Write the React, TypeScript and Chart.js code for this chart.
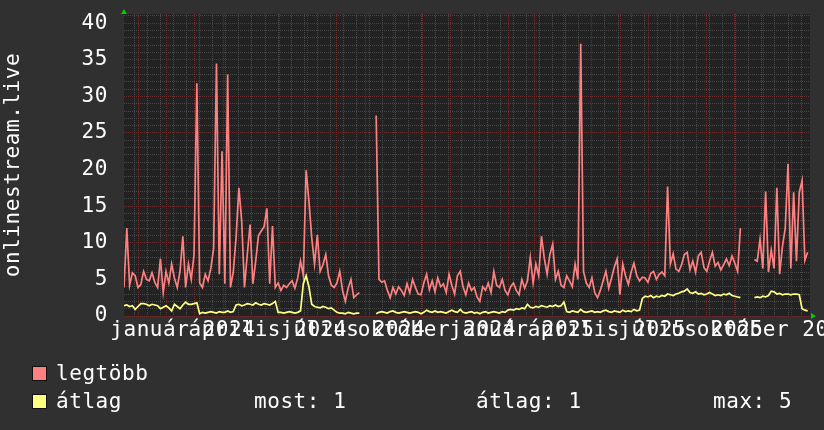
import React, { useEffect, useRef } from 'react';
import { Chart, registerables } from 'chart.js';

Chart.register(...registerables);

// ---- data ----
const STEP_DAYS = 3;
const X_MAX_DAYS = 734.5;
const Y_MAX = 41.25;

const MAX_SERIES: (number | null)[] = [
  3.9, 12.0, 4.2, 5.9, 5.5, 3.9, 4.3, 6.1, 5.0, 4.8,
  5.9, 4.6, 3.9, 7.8, 3.2, 6.1, 4.5, 7.1, 5.2, 3.9,
  6.1, 10.9, 3.9, 7.1, 5.0, 8.4, 31.8, 4.5, 3.9, 5.7,
  4.8, 6.5, 9.3, 34.5, 5.7, 22.5, 4.4, 33.0, 3.9, 6.0,
  10.7, 17.5, 13.0, 3.9, 8.4, 12.5, 4.4, 7.5, 11.0, 11.6,
  12.2, 14.7, 4.4, 12.3, 3.9, 4.5, 3.5, 4.2, 3.9, 4.4,
  4.8, 3.8, 5.2, 7.5, 5.5, 19.9, 15.7, 10.7, 7.1, 11.1,
  6.1, 7.0, 8.4, 5.5, 4.2, 3.9, 4.5, 6.1, 3.5, 2.0,
  3.8, 5.0, 2.5, 2.9, 3.2, null, null, null, null, null,
  27.4, 5.0, 4.6, 4.8, 3.5, 2.5, 3.9, 3.0, 4.0, 3.5,
  2.8, 4.4, 3.2, 5.0, 3.9, 3.0, 2.9, 4.5, 5.7, 3.6,
  4.8, 3.3, 5.2, 4.0, 4.4, 3.2, 5.7, 4.2, 3.0, 5.5,
  6.1, 4.0, 2.9, 4.5, 3.5, 3.9, 2.6, 2.0, 4.0, 3.5,
  4.5, 3.2, 6.1, 4.2, 3.9, 5.0, 3.5, 2.9, 4.0, 4.5,
  3.5, 2.9, 5.0, 3.8, 4.8, 8.0, 4.5, 7.1, 5.5, 10.9,
  7.9, 5.7, 8.4, 9.8, 5.0, 6.1, 4.2, 3.9, 5.5, 4.8,
  4.0, 7.1, 5.0, 37.2, 6.1, 4.5, 3.9, 5.2, 3.2, 2.5,
  3.5, 4.8, 6.1, 3.8, 5.2, 6.7, 7.8, 2.9, 7.1, 5.5,
  4.3, 6.0, 7.2, 5.5, 4.8, 5.3, 5.2, 4.6, 5.8, 6.1,
  5.0, 5.7, 6.0, 5.5, 17.7, 7.1, 8.5, 6.4, 6.1, 7.0,
  8.4, 8.7, 6.3, 7.5, 6.0, 8.2, 8.7, 6.6, 6.1, 7.5,
  8.7, 6.8, 7.3, 6.3, 7.0, 7.8, 6.9, 8.2, 7.2, 6.1,
  12.0, null, null, null, null, 7.7, 7.5, 10.5, 6.5, 17.0,
  6.0, 9.0, 6.5, 17.5, 5.7, 9.5, 12.0, 20.8, 6.5, 16.9,
  7.5, 16.9, 18.5, 7.6, 8.7,
];

const AVG_SERIES: (number | null)[] = [
  1.4, 1.5, 1.3, 1.4, 0.9, 1.3, 1.7, 1.7, 1.6, 1.4,
  1.6, 1.5, 1.4, 1.0, 1.2, 1.4, 1.1, 0.7, 1.6, 1.3,
  1.0, 1.5, 1.9, 1.6, 1.6, 1.7, 1.8, 0.3, 0.5, 0.4,
  0.5, 0.6, 0.5, 0.4, 0.6, 0.5, 0.5, 0.7, 0.5, 0.6,
  1.5, 1.6, 1.4, 1.5, 1.7, 1.6, 1.5, 1.8, 1.6, 1.5,
  1.7, 1.6, 1.5, 1.7, 2.0, 0.5, 0.5, 0.4, 0.5, 0.6,
  0.5, 0.4, 0.5, 0.7, 4.4, 5.5, 4.0, 1.6, 1.3, 1.2,
  1.1, 1.3, 1.2, 1.0, 1.1, 0.8, 0.5, 0.4, 0.4, 0.3,
  0.5, 0.4, 0.3, 0.4, 0.4, null, null, null, null, null,
  0.3, 0.5, 0.6, 0.5, 0.4, 0.6, 0.7, 0.5, 0.4, 0.5,
  0.6, 0.5, 0.4, 0.5, 0.6, 0.5, 0.3, 0.5, 0.8, 0.6,
  0.5, 0.7, 0.5, 0.6, 0.5, 0.4, 0.6, 0.8, 0.6, 0.5,
  0.9, 0.5, 0.4, 0.5, 0.6, 0.4, 0.5, 0.3, 0.5, 0.6,
  0.4, 0.5, 0.6, 0.5, 0.4, 0.6, 0.5, 0.8, 0.9, 0.8,
  1.0, 0.9, 1.1, 1.0, 1.6, 1.2, 1.1, 1.3, 1.2, 1.4,
  1.3, 1.2, 1.4, 1.3, 1.5, 1.3, 1.4, 1.9, 0.6, 0.5,
  0.7, 0.6, 0.5, 0.9, 0.6, 0.5, 0.6, 0.7, 0.5, 0.6,
  0.5, 0.7, 0.8, 0.6, 0.5, 0.7, 0.6, 0.5, 0.8, 0.6,
  0.7, 0.6, 0.9, 0.7, 0.8, 2.4, 2.7, 2.6, 2.8, 2.5,
  2.7, 2.6, 2.8, 2.7, 3.0, 2.9, 2.8, 3.0, 3.1, 3.3,
  3.4, 3.7, 3.2, 3.1, 3.3, 3.0, 3.1, 2.9, 3.0, 3.2,
  3.0, 2.8, 2.9, 2.8, 3.0, 2.9, 3.1, 2.8, 2.7, 2.6,
  2.5, null, null, null, null, 2.5, 2.6, 2.5, 2.7, 2.6,
  2.8, 3.4, 3.3, 3.0, 3.1, 2.9, 3.0, 3.0, 2.9, 3.0,
  3.0, 2.9, 1.0, 0.8, 0.7,
];

// month starts (days from left edge) -> major (red) vertical grid
const MONTH_GRID_DAYS = [15, 46, 75, 106, 136, 167, 197, 228, 259, 289, 320, 350, 381, 412, 440, 471, 501, 532, 562, 593, 624, 654, 685, 715];
// minor (grey) vertical grid
const MINOR_GRID_DAYS = [11, 25, 39, 53, 67, 81, 95, 109, 123, 137, 151, 165, 179, 193, 207, 221, 235, 249, 263, 277, 291, 305, 319, 333, 347, 361, 375, 389, 403, 417, 431, 445, 459, 473, 487, 501, 515, 529, 543, 557, 571, 585, 599, 613, 627, 641, 655, 669, 683, 697, 711, 725];
const X_LABEL_DAYS = [63, 154, 245, 335, 426, 517, 607, 698];
const X_LABELS = ['január 2024', 'április 2024', 'július 2024', 'október 2024', 'január 2025', 'április 2025', 'július 2025', 'október 2025'];

const Y_GRID_VALUES = [0, 1, 2, 3, 4, 5, 6, 7, 8, 9, 10, 11, 12, 13, 14, 15, 16, 17, 18, 19, 20, 21, 22, 23, 24, 25, 26, 27, 28, 29, 30, 31, 32, 33, 34, 35, 36, 37, 38, 39, 40, 41];
const Y_LABEL_VALUES = [0, 5, 10, 15, 20, 25, 30, 35, 40];

const Y_TITLE = 'onlinestream.live';
const SERIES_NAMES = ['legtöbb', 'átlag'];
const STAT_LABELS = ['most:', 'átlag:', 'max:'];
const STAT_VALUES = ['1', '1', '5'];

// ---- styles ----
const FONT_FAMILY = "'DejaVu Sans Mono', monospace";
const FONT_SIZE = 21;
const LETTER_SPACING = 0.56;
const RED = '#ff8080';
const YELLOW = '#ffff80';
const OUTER_BG = '#303030';
const PLOT_BG = '#222222';
const MAJOR_GRID = 'rgb(105, 44, 44)';
const MINOR_GRID = 'rgb(72, 72, 72)';

const toPoints = (arr: (number | null)[]) => arr.map((v, i) => ({ x: i * STEP_DAYS, y: v }));

export default function App() {
  const canvasRef = useRef<HTMLCanvasElement>(null);

  useEffect(() => {
    document.body.style.margin = '0';
    const canvas = canvasRef.current;
    if (!canvas) return;

    const monthSet = new Set(MONTH_GRID_DAYS);
    const minorSet = new Set(MINOR_GRID_DAYS);
    const labelMap = new Map<number, string>();
    X_LABEL_DAYS.forEach((d, i) => labelMap.set(d, X_LABELS[i]));
    const xTickValues = Array.from(new Set([...MINOR_GRID_DAYS, ...MONTH_GRID_DAYS, ...X_LABEL_DAYS])).sort((a, b) => a - b);
    const yLabelSet = new Set(Y_LABEL_VALUES);

    const bgPlugin = {
      id: 'rrdBackground',
      beforeDraw(chart: any) {
        const { ctx, chartArea } = chart;
        ctx.save();
        ctx.fillStyle = OUTER_BG;
        ctx.fillRect(0, 0, chart.width, chart.height);
        ctx.fillStyle = PLOT_BG;
        ctx.fillRect(chartArea.left, chartArea.top, chartArea.right - chartArea.left, chartArea.bottom - chartArea.top);
        ctx.restore();
        (ctx as any).letterSpacing = LETTER_SPACING + 'px';
      },
      afterDraw(chart: any) {
        const { ctx, chartArea } = chart;
        const { left, top, right, bottom } = chartArea;
        ctx.save();
        ctx.fillStyle = '#00cc00';
        ctx.beginPath();
        ctx.moveTo(left - 3, top);
        ctx.lineTo(left + 3, top);
        ctx.lineTo(left, top - 5);
        ctx.closePath();
        ctx.fill();
        ctx.beginPath();
        ctx.moveTo(right + 1, bottom - 3);
        ctx.lineTo(right + 1, bottom + 3);
        ctx.lineTo(right + 6, bottom);
        ctx.closePath();
        ctx.fill();
        ctx.restore();
      },
    };

    const font = { family: FONT_FAMILY, size: FONT_SIZE };

    const chart = new Chart(canvas, {
      type: 'line',
      data: {
        datasets: [
          {
            label: SERIES_NAMES[1],
            data: toPoints(AVG_SERIES) as any,
            borderColor: YELLOW,
            backgroundColor: YELLOW,
            borderWidth: 1.7,
            pointRadius: 0,
            tension: 0,
            spanGaps: false,
            order: 0,
          },
          {
            label: SERIES_NAMES[0],
            data: toPoints(MAX_SERIES) as any,
            borderColor: RED,
            backgroundColor: RED,
            borderWidth: 1.7,
            pointRadius: 0,
            tension: 0,
            spanGaps: false,
            order: 1,
          },
        ],
      },
      options: {
        responsive: false,
        animation: false,
        devicePixelRatio: 1,
        layout: { padding: { left: 0, right: 14, top: 14, bottom: 0 }, autoPadding: false } as any,
        plugins: { legend: { display: false }, tooltip: { enabled: false } },
        scales: {
          x: {
            type: 'linear',
            min: 0,
            max: X_MAX_DAYS,
            afterBuildTicks: (scale: any) => {
              scale.ticks = xTickValues.map((v) => ({ value: v }));
            },
            afterFit: (scale: any) => {
              scale.height = 114;
              scale.paddingLeft = 0;
              scale.paddingRight = 0;
              scale.paddingTop = 0;
              scale.paddingBottom = 0;
            },
            grid: {
              drawTicks: false,
              lineWidth: 1,
              color: (c: any) => {
                const v = c.tick ? c.tick.value : -1;
                if (monthSet.has(v)) return MAJOR_GRID;
                if (minorSet.has(v)) return MINOR_GRID;
                return 'rgba(0,0,0,0)';
              },
            },
            border: { display: false, dash: [1, 1] },
            ticks: {
              autoSkip: false,
              maxRotation: 0,
              minRotation: 0,
              padding: 2,
              color: '#ffffff',
              font,
              callback: (v: any) => labelMap.get(Number(v)) ?? '',
            },
          },
          y: {
            type: 'linear',
            min: 0,
            max: Y_MAX,
            afterBuildTicks: (scale: any) => {
              scale.ticks = Y_GRID_VALUES.map((v) => ({ value: v }));
            },
            afterFit: (scale: any) => {
              scale.width = 124;
              scale.paddingLeft = 0;
              scale.paddingRight = 0;
              scale.paddingTop = 0;
              scale.paddingBottom = 0;
            },
            grid: {
              drawTicks: false,
              lineWidth: 1,
              color: (c: any) => (c.tick && yLabelSet.has(c.tick.value) ? MAJOR_GRID : MINOR_GRID),
            },
            border: { display: false, dash: [1, 1] },
            ticks: {
              autoSkip: false,
              padding: 16,
              color: '#ffffff',
              font,
              callback: (v: any) => (yLabelSet.has(Number(v)) ? String(v) : ''),
            },
            title: {
              display: true,
              text: Y_TITLE,
              color: '#ffffff',
              font,
              padding: { top: 1, bottom: 0 },
            },
          },
        },
      },
      plugins: [bgPlugin],
    });

    return () => chart.destroy();
  }, []);

  const textStyle: React.CSSProperties = {
    position: 'absolute',
    color: '#ffffff',
    fontFamily: FONT_FAMILY,
    fontSize: FONT_SIZE,
    letterSpacing: LETTER_SPACING,
    lineHeight: '22px',
    whiteSpace: 'pre',
  };
  const box = (color: string, top: number): React.CSSProperties => ({
    position: 'absolute',
    left: 32,
    top,
    width: 13,
    height: 13,
    background: color,
    border: '1px solid #111',
  });

  return (
    <div style={{ position: 'relative', width: 824, height: 430, background: OUTER_BG, overflow: 'hidden' }}>
      <canvas ref={canvasRef} width={824} height={430} style={{ position: 'absolute', left: 0, top: 0, width: 824, height: 430 }} />
      <div style={box(RED, 366)} />
      <div style={{ ...textStyle, left: 56, top: 362 }}>{SERIES_NAMES[0]}</div>
      <div style={box(YELLOW, 394)} />
      <div style={{ ...textStyle, left: 56, top: 390 }}>{SERIES_NAMES[1]}</div>
      <div style={{ ...textStyle, left: 254, top: 390 }}>{STAT_LABELS[0] + ' ' + STAT_VALUES[0]}</div>
      <div style={{ ...textStyle, left: 476, top: 390 }}>{STAT_LABELS[1] + ' ' + STAT_VALUES[1]}</div>
      <div style={{ ...textStyle, left: 713, top: 390 }}>{STAT_LABELS[2] + ' ' + STAT_VALUES[2]}</div>
    </div>
  );
}
